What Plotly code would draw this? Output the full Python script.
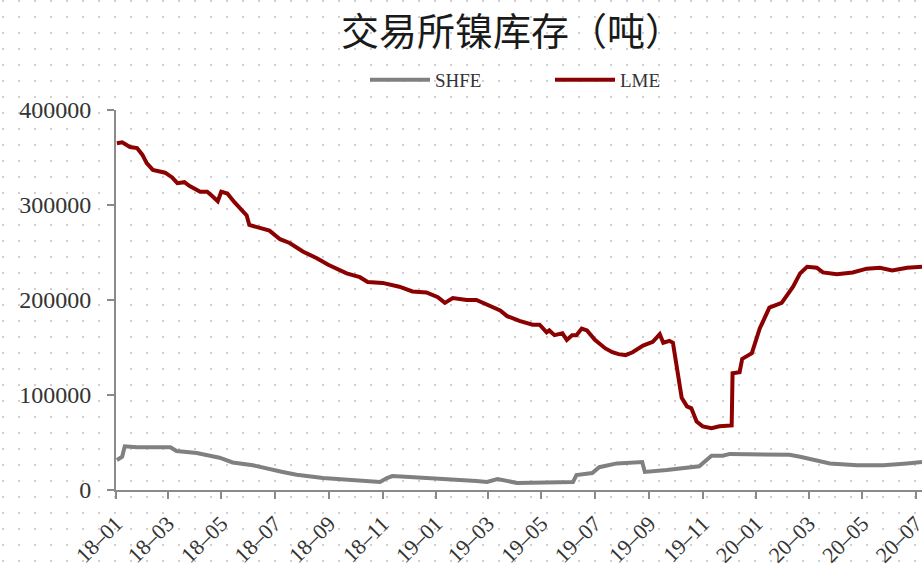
import plotly.graph_objects as go

# ---------------- data ----------------
lme_dates = [
    "2018-01-02", "2018-01-08", "2018-01-17", "2018-01-25", "2018-01-31", "2018-02-05",
    "2018-02-12", "2018-02-26", "2018-03-06", "2018-03-12", "2018-03-20", "2018-03-26",
    "2018-04-07", "2018-04-15", "2018-04-20", "2018-04-27", "2018-05-01", "2018-05-08",
    "2018-05-16", "2018-05-24", "2018-05-30", "2018-06-02", "2018-06-10", "2018-06-25",
    "2018-07-07", "2018-07-18", "2018-08-02", "2018-08-18", "2018-08-31", "2018-09-05",
    "2018-09-21", "2018-10-06", "2018-10-15", "2018-11-01", "2018-11-20", "2018-12-05",
    "2018-12-21", "2019-01-03", "2019-01-11", "2019-01-20", "2019-02-05", "2019-02-16",
    "2019-02-28", "2019-03-15", "2019-03-23", "2019-04-06", "2019-04-21", "2019-04-29",
    "2019-05-07", "2019-05-10", "2019-05-16", "2019-05-25", "2019-05-30", "2019-06-05",
    "2019-06-10", "2019-06-16", "2019-06-22", "2019-07-01", "2019-07-13", "2019-07-21",
    "2019-07-28", "2019-08-05", "2019-08-13", "2019-08-19", "2019-08-25", "2019-09-05",
    "2019-09-13", "2019-09-17", "2019-09-24", "2019-09-28", "2019-10-02", "2019-10-08",
    "2019-10-14", "2019-10-19", "2019-10-25", "2019-11-01", "2019-11-11", "2019-11-20",
    "2019-12-04", "2019-12-05", "2019-12-13", "2019-12-16", "2019-12-27", "2020-01-05",
    "2020-01-16", "2020-01-30", "2020-02-12", "2020-02-20", "2020-02-28", "2020-03-10",
    "2020-03-17", "2020-04-02", "2020-04-20", "2020-05-06", "2020-05-21", "2020-06-04",
    "2020-06-21", "2020-07-06", "2020-07-08",
]
lme_values = [
    365000, 366000, 361000, 360000, 353000, 344000,
    337000, 334000, 329000, 323000, 324000, 320000,
    314000, 314000, 310000, 304000, 314000, 312000,
    303000, 295000, 289000, 279000, 277000, 273000,
    264000, 260000, 251000, 244000, 237000, 235000,
    228000, 224000, 219000, 218000, 214000, 209000,
    208000, 203000, 197000, 202000, 200000, 200000,
    195000, 189000, 183000, 178000, 174000, 174000,
    166000, 168000, 163000, 165000, 158000, 163000,
    163000, 170000, 168000, 158000, 149000, 145000,
    143000, 142000, 145000, 149000, 152000, 156000,
    164000, 155000, 157000, 155000, 130000, 97000,
    88000, 86000, 72000, 67000, 65000, 67000,
    68000, 123000, 124000, 138000, 144000, 170000,
    192000, 197000, 214000, 228000, 235000, 234000,
    229000, 227000, 229000, 233000, 234000, 231000,
    234000, 235000, 235000,
]

shfe_dates = [
    "2018-01-02", "2018-01-08", "2018-01-11", "2018-01-25", "2018-03-04", "2018-03-11",
    "2018-04-03", "2018-04-29", "2018-05-14", "2018-06-06", "2018-07-10", "2018-07-26",
    "2018-08-25", "2018-09-24", "2018-10-29", "2018-11-06", "2018-11-12", "2018-12-02",
    "2018-12-28", "2019-02-16", "2019-02-28", "2019-03-12", "2019-04-03", "2019-04-29",
    "2019-06-06", "2019-06-10", "2019-06-28", "2019-07-06", "2019-07-26", "2019-08-24",
    "2019-08-27", "2019-09-21", "2019-10-14", "2019-10-28", "2019-11-11", "2019-11-24",
    "2019-12-02", "2020-02-08", "2020-02-20", "2020-03-25", "2020-04-25", "2020-05-25",
    "2020-06-21", "2020-07-08",
]
shfe_values = [
    31600, 35000, 46000, 45000, 45000, 41000,
    39000, 34000, 29000, 26000, 19000, 16000,
    12600, 10500, 8400, 12600, 14700, 13700,
    12600, 9500, 8400, 11600, 7400, 7400,
    8400, 15800, 17900, 24000, 28000, 29500,
    19000, 21000, 23000, 25000, 36000, 36000,
    38000, 37000, 35000, 28000, 26000, 26000,
    28000, 29500,
]

x_tickvals = ["2018-01-01", "2018-03-01", "2018-05-01", "2018-07-01", "2018-09-01",
              "2018-11-01", "2019-01-01", "2019-03-01", "2019-05-01", "2019-07-01",
              "2019-09-01", "2019-11-01", "2020-01-01", "2020-03-01", "2020-05-01",
              "2020-07-01"]
x_ticktext = ["18–01", "18–03", "18–05", "18–07", "18–09", "18–11", "19–01", "19–03",
              "19–05", "19–07", "19–09", "19–11", "20–01", "20–03", "20–05", "20–07"]
y_tickvals = [0, 100000, 200000, 300000, 400000]
y_ticktext = ["0", "100000", "200000", "300000", "400000"]

title_text = "交易所镍库存（吨）"

# ---------------- figure ----------------
W, H = 922, 568
fig = go.Figure()

# invisible trace on the background axes (dotted pattern carrier)
fig.add_trace(go.Scatter(x=[None], y=[None], xaxis="x", yaxis="y",
                         showlegend=False, hoverinfo="skip"))

fig.add_trace(go.Scatter(x=shfe_dates, y=shfe_values, name="SHFE", mode="lines",
                         line=dict(color="#808080", width=4),
                         xaxis="x2", yaxis="y2"))
fig.add_trace(go.Scatter(x=lme_dates, y=lme_values, name="LME", mode="lines",
                         line=dict(color="#8B0000", width=4),
                         xaxis="x2", yaxis="y2"))

axis_gray = "#8a8a8a"
serif = "Liberation Serif, Times New Roman, serif"
y_tick_font = dict(family=serif, size=24, color="#333333")
x_tick_font = dict(family=serif, size=22, color="#333333")

fig.update_layout(
    width=W, height=H,
    margin=dict(l=0, r=0, t=0, b=0),
    paper_bgcolor="white",
    plot_bgcolor="rgba(0,0,0,0)",
    # background dotted pattern
    xaxis=dict(domain=[0, 1], range=[0, W], showgrid=True, dtick=16, tick0=3,
               gridcolor="#cfcfcf", gridwidth=2, griddash="2px,14px",
               showticklabels=False, zeroline=False, showline=False, ticks="",
               fixedrange=True),
    yaxis=dict(domain=[0, 1], range=[H - 2, -2], showgrid=False,
               showticklabels=False, zeroline=False, showline=False, ticks="",
               fixedrange=True),
    # main axes
    xaxis2=dict(domain=[116 / W, 1.0], anchor="y2", type="date",
                range=["2018-01-01", "2020-07-08"],
                tickmode="array", tickvals=x_tickvals, ticktext=x_ticktext,
                tickangle=-45, tickfont=x_tick_font, ticklabelstandoff=3,
                ticklabeloverflow="allow",
                showgrid=False, zeroline=False,
                showline=True, linecolor=axis_gray, linewidth=2,
                ticks="outside", ticklen=7, tickwidth=2, tickcolor=axis_gray,
                automargin=False),
    yaxis2=dict(domain=[(H - 490) / H, (H - 110) / H], anchor="x2",
                range=[0, 400000],
                tickmode="array", tickvals=y_tickvals, ticktext=y_ticktext,
                tickfont=y_tick_font, ticklabelstandoff=11,
                showgrid=False, zeroline=False,
                showline=True, linecolor=axis_gray, linewidth=2,
                ticks="outside", ticklen=7, tickwidth=2, tickcolor=axis_gray,
                automargin=False),
    legend=dict(orientation="h", x=365 / W, xanchor="left",
                y=(H - 80) / H, yanchor="middle",
                bgcolor="rgba(0,0,0,0)",
                font=dict(family=serif, size=19, color="#333333"),
                itemwidth=60, entrywidth=110, entrywidthmode="pixels",
                tracegroupgap=0),
    annotations=[dict(text=title_text, x=512 / W, y=(H - 28) / H,
                      xref="paper", yref="paper", xanchor="center", yanchor="middle",
                      showarrow=False,
                      font=dict(family="Noto Sans CJK SC, sans-serif", size=38,
                                color="#1a1a1a"))],
    showlegend=True,
)

fig.write_html("out.html",
               config={"displayModeBar": False},
               post_script="document.body.style.margin='0';document.body.style.overflow='hidden';")
